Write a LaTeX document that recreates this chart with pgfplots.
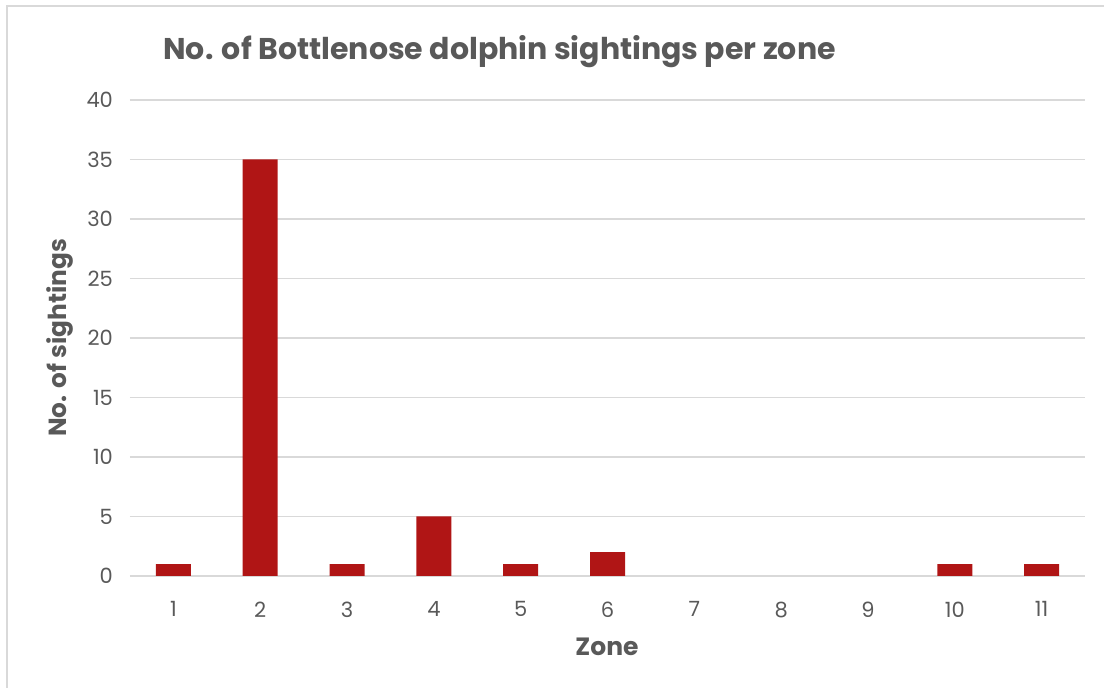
\documentclass[border=0pt]{standalone}
\usepackage{pgfplots}
\pgfplotsset{compat=1.18}
\usepackage{fontspec}
\setmainfont{Poppins}
\definecolor{txt}{HTML}{595959}
\definecolor{gridc}{HTML}{D9D9D9}
\definecolor{barred}{HTML}{B01515}
\begin{document}
\begin{tikzpicture}
\useasboundingbox (0,0) rectangle (552pt,344pt);
% chart frame: only top and left edges fall inside the picture
\draw[gridc, line width=0.8pt] (3.5pt,0pt) -- (3.5pt,341pt) -- (552pt,341pt);
\begin{axis}[
    at={(65pt,56pt)}, anchor=south west,
    scale only axis,
    width=477.5pt, height=238pt,
    ybar, bar width=17.5pt,
    xmin=0.5, xmax=11.5,
    ymin=0, ymax=40,
    xtick={1,...,11},
    ytick={0,5,...,40},
    ymajorgrids,
    grid style={gridc, line width=0.75pt},
    axis line style={draw=none},
    major tick style={draw=none},
    /pgf/number format/assume math mode=true,
    tick label style={font=\fontsize{10.5}{12}\selectfont, text=txt},
    yticklabel style={xshift=-5pt},
    xticklabel style={yshift=-5pt},
    title={No. of Bottlenose dolphin sightings per zone},
    title style={font=\fontsize{15}{17}\selectfont\bfseries, text=txt,
        at={(axis description cs:0.387,1.077)}, anchor=center},
    xlabel={Zone},
    xlabel style={font=\fontsize{12.5}{14}\selectfont\bfseries, text=txt,
        at={(axis description cs:0.4995,-0.149)}, anchor=center},
    ylabel={No. of sightings},
    ylabel style={font=\fontsize{12.4}{14}\selectfont\bfseries, text=txt,
        at={(axis description cs:-0.073,0.5)}, anchor=center, rotate=0},
]
% zones 7, 8 and 9 have 0 sightings (no bar)
\addplot[fill=barred, draw=none] coordinates {
    (1,1) (2,35) (3,1) (4,5) (5,1) (6,2) (10,1) (11,1)
};
\end{axis}
\end{tikzpicture}
\end{document}
